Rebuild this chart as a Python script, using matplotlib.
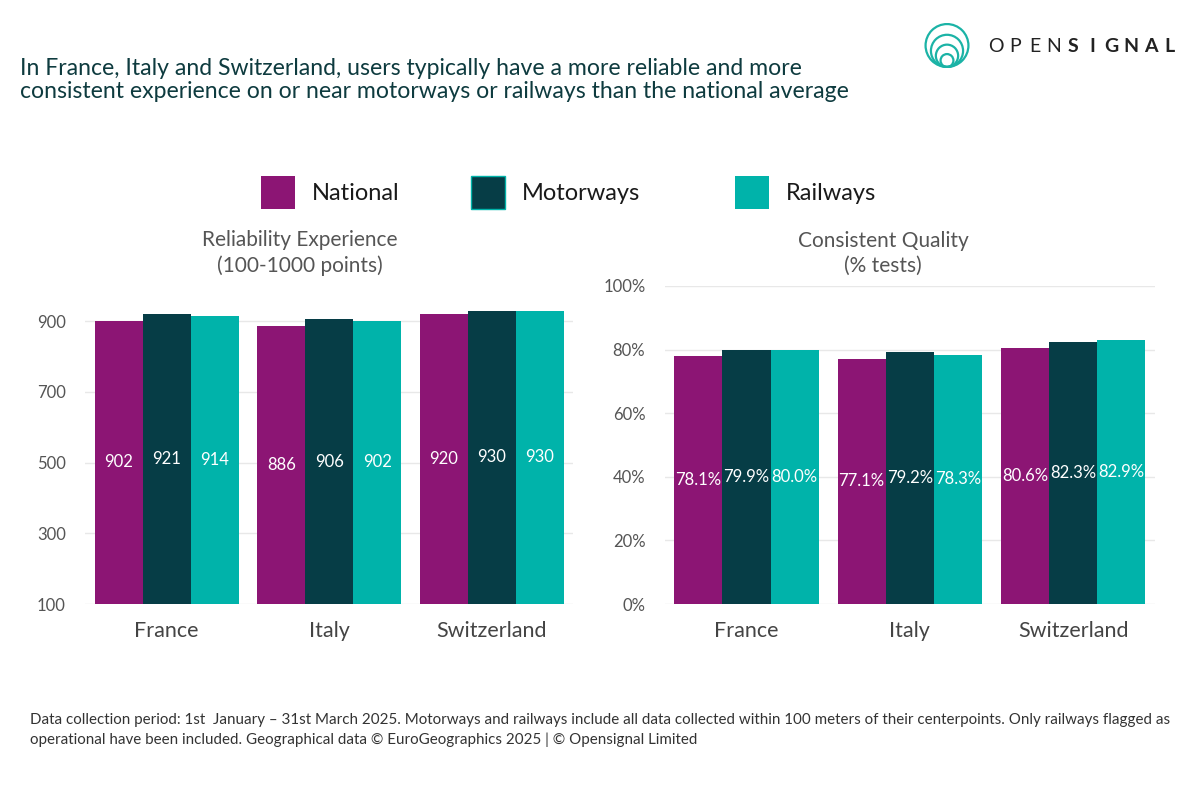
import matplotlib
matplotlib.use("Agg")
import matplotlib.pyplot as plt
from matplotlib.patches import Rectangle, Circle
import numpy as np

plt.rcParams['font.family'] = ['Lato', 'DejaVu Sans']

# data
countries = ["France", "Italy", "Switzerland"]
series = ["National", "Motorways", "Railways"]
reliability = {
    "National": [902, 886, 920],
    "Motorways": [921, 906, 930],
    "Railways": [914, 902, 930],
}
consistent = {
    "National": [78.1, 77.1, 80.6],
    "Motorways": [79.9, 79.2, 82.3],
    "Railways": [80.0, 78.3, 82.9],
}
rel_ticks = [100, 300, 500, 700, 900]
cq_ticks = [0, 20, 40, 60, 80, 100]

colors = {"National": "#8C1574", "Motorways": "#063D46", "Railways": "#00B3AA"}
grid_col = "#E8E8E8"
tick_col = "#555555"
title_col = "#0E3B3F"

fig = plt.figure(figsize=(12, 7.88), dpi=100)
fig.patch.set_facecolor("white")

ax1 = fig.add_axes([0.071, 0.2335, 0.4067, 0.4036])
ax2 = fig.add_axes([0.554, 0.2335, 0.4083, 0.4036])

x = np.arange(len(countries))
w = 0.295

def draw(ax, data, base, ticks, ylim, fmt):
    for i, s in enumerate(series):
        vals = np.array(data[s])
        pos = x + (i - 1) * w
        ax.bar(pos, vals - base, width=w, bottom=base, color=colors[s],
               edgecolor="none", zorder=2)
        for p, v in zip(pos, vals):
            ax.text(p, (v + base) / 2, fmt(v), ha="center", va="center",
                    color="white", fontsize=12, zorder=3)
    ax.set_xlim(-0.5, 2.5)
    ax.set_ylim(*ylim)
    ax.set_yticks(ticks)
    ax.yaxis.grid(True, color=grid_col, linewidth=1, zorder=0)
    ax.set_axisbelow(True)
    for sp in ax.spines.values():
        sp.set_visible(False)
    ax.set_xticks(x)
    ax.set_xticklabels(countries, fontsize=15.5, color="#444444")
    ax.tick_params(axis="both", length=0)
    ax.tick_params(axis="y", labelsize=12, labelcolor=tick_col, pad=14)
    ax.tick_params(axis="x", pad=12)

draw(ax1, reliability, 100, rel_ticks, (100, 1000), lambda v: f"{v:.0f}")
draw(ax2, consistent, 0, cq_ticks, (0, 100), lambda v: f"{v:.1f}%")
ax2.set_yticklabels([f"{t}%" for t in cq_ticks])

# subplot titles
fig.text(300 / 1200, 1 - 253 / 788, "Reliability Experience\n(100-1000 points)",
         ha="center", va="center", fontsize=15, color=tick_col, linespacing=1.3)
fig.text(883 / 1200, 1 - 253 / 788, "Consistent Quality\n(% tests)",
         ha="center", va="center", fontsize=15, color=tick_col, linespacing=1.3)

# legend
leg_x = [261, 471, 735]
for s, lx in zip(series, leg_x):
    fig.patches.append(Rectangle((lx / 1200, 1 - 209 / 788), 34 / 1200, 33 / 788,
                                 transform=fig.transFigure, facecolor=colors[s],
                                 edgecolor="#00B3AA" if s == "Motorways" else "none",
                                 linewidth=1))
    fig.text((lx + 51) / 1200, 1 - 194 / 788, s, ha="left", va="center",
             fontsize=17, color="#1A1A1A")

# title
fig.text(20 / 1200, 1 - 80 / 788,
         "In France, Italy and Switzerland, users typically have a more reliable and more\n"
         "consistent experience on or near motorways or railways than the national average",
         ha="left", va="center", fontsize=16.6, color=title_col, linespacing=1.15)

# footnote
fig.text(30 / 1200, 1 - 730 / 788,
         "Data collection period: 1st  January \u2013 31st March 2025. Motorways and railways include all data collected within 100 meters of their centerpoints. Only railways flagged as\n"
         "operational have been included. Geographical data \u00a9 EuroGeographics 2025 | \u00a9 Opensignal Limited",
         ha="left", va="center", fontsize=10.9, color="#333333", linespacing=1.4)

# logo
lax = fig.add_axes([922 / 1200, 1 - 68 / 788, 50 / 1200, 45 / 788])
lax.set_xlim(-1.1, 1.1)
lax.set_ylim(-1.05, 1.05)
lax.set_aspect("equal")
lax.axis("off")
for r in [1.0, 0.75, 0.52, 0.3]:
    lax.add_patch(Circle((0, -1.0 + r), r, fill=False, edgecolor="#1BB3A6", linewidth=1.6))
logo = "OPENSIGNAL"
for k, ch in enumerate(logo):
    fig.text((996 + k * 19.3) / 1200, 1 - 46 / 788, ch, ha="center", va="center",
             fontsize=14, color="#222222",
             fontweight="bold" if k >= 4 else "normal")

fig.savefig("out.png", dpi=100)
